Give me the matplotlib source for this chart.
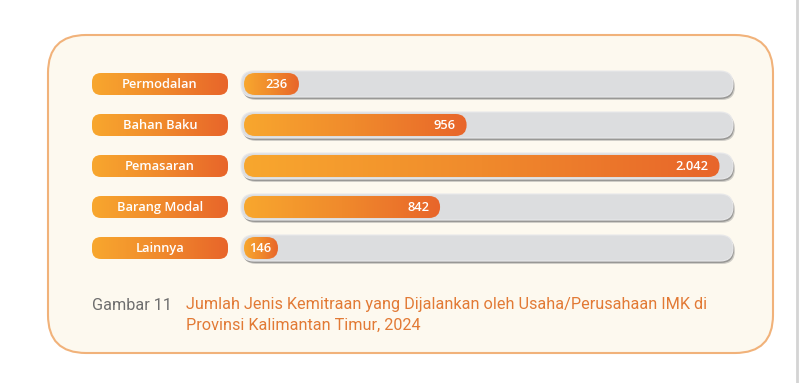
import numpy as np
import matplotlib
matplotlib.use("Agg")
import matplotlib.pyplot as plt
from matplotlib.patches import FancyBboxPatch
from matplotlib.colors import LinearSegmentedColormap

# data
categories = ["Permodalan", "Bahan Baku", "Pemasaran", "Barang Modal", "Lainnya"]
values = [236, 956, 2042, 842, 146]
axis_max = 2100
caption_num = "Gambar 11"
caption_lines = ["Jumlah Jenis Kemitraan yang Dijalankan oleh Usaha/Perusahaan IMK di",
                 "Provinsi Kalimantan Timur, 2024"]

W, H = 800, 383
fig = plt.figure(figsize=(W / 100, H / 100), dpi=100)
fig.patch.set_facecolor("white")

# background axes in pixel coords
bg = fig.add_axes([0, 0, 1, 1])
bg.set_xlim(0, W)
bg.set_ylim(H, 0)
bg.axis("off")

panel = FancyBboxPatch((48, 35), 725, 318, boxstyle="round,pad=0,rounding_size=38",
                       facecolor="#FDF9EF", edgecolor="#F1B27A", linewidth=1.5, zorder=0)
bg.add_patch(panel)
bg.plot([797, 797], [0, H], color="#D4D4D4", lw=2, zorder=0)

bg.text(92, 305, caption_num, fontsize=11.7, color="#6E6E6E", family="Roboto", va="center")
for i, line in enumerate(caption_lines):
    bg.text(186, 305 + 20 * i, line, fontsize=11.7, color="#E27A35", family="Roboto",
            va="center")

# bar axes: full figure, data coords
ax = fig.add_axes([0, 0, 1, 1])
ax.patch.set_alpha(0)
ax.axis("off")

x0_px, xmax_px = 244, 733
u = axis_max / (xmax_px - x0_px)  # data units per px
row_px = 41
first_px = 84
asp = (1 / row_px) / u

orange = LinearSegmentedColormap.from_list("og", ["#F8A72E", "#F08A2C", "#E8652A"])
grad = np.linspace(0, 1, 256).reshape(1, -1)
txt_kw = dict(color="white", fontsize=9.3, family="Open Sans", fontweight="semibold",
              va="center", zorder=4)


def rbox(x, y, w, h, r, **kw):
    p = FancyBboxPatch((x, y), w, h, boxstyle=f"round,pad=0,rounding_size={r}",
                       mutation_aspect=asp, **kw)
    ax.add_patch(p)
    return p


def grad_box(x, y, w, h, r, z):
    p = rbox(x, y, w, h, r, facecolor="none", edgecolor="none", zorder=z)
    im = ax.imshow(grad, cmap=orange, extent=(x, x + w, y + h, y), aspect="auto",
                   zorder=z, interpolation="bicubic")
    im.set_clip_path(p)


track_h = 26 / row_px
bar_h = 22 / row_px
for i, (cat, v) in enumerate(zip(categories, values)):
    # shadow of track
    tx = -3 * u
    tw = axis_max + 3 * u
    rbox(tx + 2 * u, i - track_h / 2 + 3 / row_px, tw, track_h, 13 * u,
         facecolor="#8C8C8C", edgecolor="none", alpha=0.4, zorder=1)
    rbox(tx + 1 * u, i - track_h / 2 + 2 / row_px, tw, track_h, 13 * u,
         facecolor="#6E6E6E", edgecolor="none", alpha=0.55, zorder=1)
    rbox(tx, i - track_h / 2, tw, track_h, 13 * u,
         facecolor="#DCDDDF", edgecolor="#E8E8EA", linewidth=0.8, zorder=2)
    # value bar
    grad_box(0, i - bar_h / 2, v, bar_h, 11 * u, 3)
    ax.text(max(v - 11 * u, 27 * u), i + 0.01, f"{v:,}".replace(",", "."),
            ha="right", **txt_kw)
    # label pill
    lx = (92 - x0_px) * u
    lw = 136 * u
    grad_box(lx, i - bar_h / 2, lw, bar_h, 9 * u, 3)
    ax.text(lx + lw / 2, i + 0.01, cat, ha="center", **txt_kw)

ax.set_xlim(-x0_px * u, (W - x0_px) * u)
ax.set_ylim((H - first_px) / row_px, -first_px / row_px)

fig.savefig("out.png", dpi=100, facecolor="white")
